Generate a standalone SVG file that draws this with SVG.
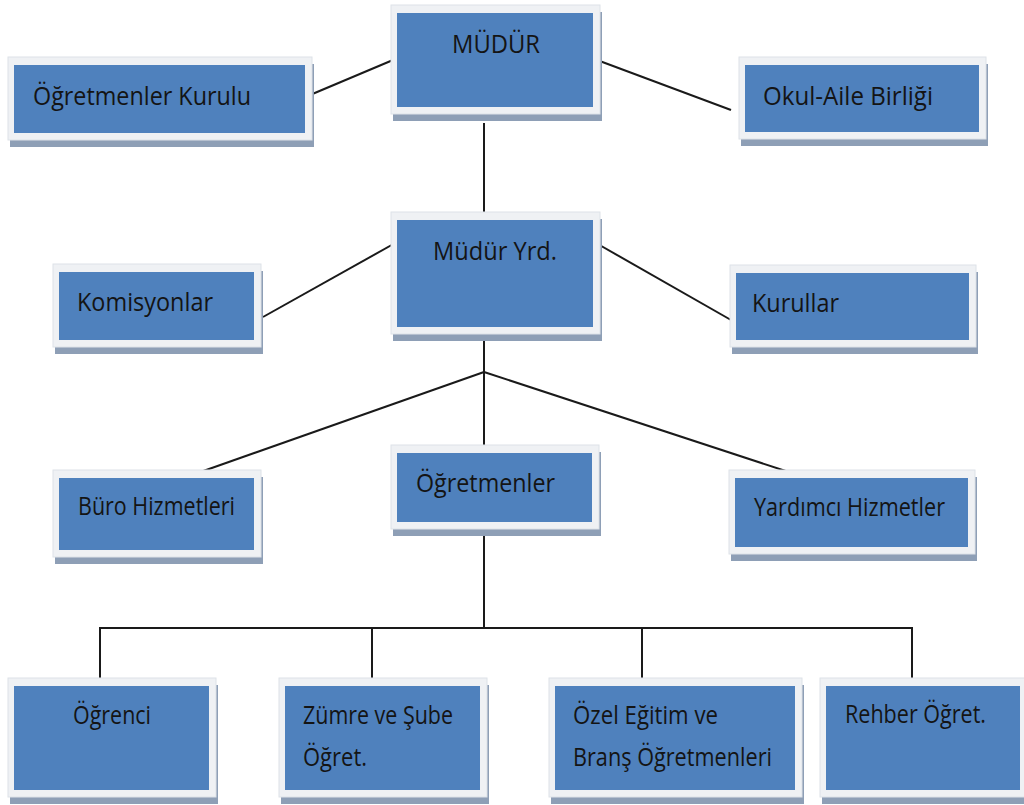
<svg xmlns="http://www.w3.org/2000/svg" width="1024" height="805" viewBox="0 0 1024 805">
<style>
.sh{fill:#8e9fb6}
.fr{fill:#eff1f4;stroke:#dde2e8;stroke-width:1}
.bx{fill:#4f81bd}
.t{font-family:"Open Sans","Noto Sans","DejaVu Sans",sans-serif;font-size:26px;fill:#141414}
.ln{stroke:#1a1a1a;stroke-width:2;fill:none}
</style>
<rect width="1024" height="805" fill="#ffffff"/>
<g id="connectors">
<line class="ln" x1="310" y1="95" x2="393" y2="60"/>
<line class="ln" x1="597" y1="60" x2="731" y2="110"/>
<line class="ln" x1="484" y1="123" x2="484" y2="214"/>
<line class="ln" x1="263" y1="317" x2="397" y2="242"/>
<line class="ln" x1="596" y1="243" x2="731" y2="320"/>
<line class="ln" x1="484" y1="340" x2="484" y2="372"/>
<line class="ln" x1="484" y1="372" x2="192" y2="475"/>
<line class="ln" x1="484" y1="372" x2="484" y2="448"/>
<line class="ln" x1="484" y1="372" x2="798" y2="475"/>
<line class="ln" x1="484" y1="536" x2="484" y2="628"/>
<polyline class="ln" points="100,680 100,628 912,628 912,680"/>
<line class="ln" x1="372" y1="628" x2="372" y2="680"/>
<line class="ln" x1="642" y1="628" x2="642" y2="680"/>
</g>
<g id="mudur">
<rect class="sh" x="393" y="12" width="209" height="109"/>
<rect class="fr" x="391" y="5" width="209" height="109"/>
<rect class="bx" x="397" y="13" width="196" height="94"/>
<text class="t" x="452" y="53" textLength="88" lengthAdjust="spacingAndGlyphs">MÜDÜR</text>
</g>
<g id="ogretmenler-kurulu">
<rect class="sh" x="10" y="64" width="304" height="83"/>
<rect class="fr" x="8" y="57" width="304" height="83"/>
<rect class="bx" x="14" y="65" width="291" height="68"/>
<text class="t" x="33" y="105" textLength="218" lengthAdjust="spacingAndGlyphs">Öğretmenler Kurulu</text>
</g>
<g id="okul-aile">
<rect class="sh" x="741" y="64" width="247" height="82"/>
<rect class="fr" x="739" y="57" width="247" height="82"/>
<rect class="bx" x="745" y="65" width="234" height="67"/>
<text class="t" x="763" y="105" textLength="170" lengthAdjust="spacingAndGlyphs">Okul-Aile Birliği</text>
</g>
<g id="mudur-yrd">
<rect class="sh" x="393" y="219" width="209" height="122"/>
<rect class="fr" x="391" y="212" width="209" height="122"/>
<rect class="bx" x="397" y="220" width="196" height="107"/>
<text class="t" x="433" y="260" textLength="124" lengthAdjust="spacingAndGlyphs">Müdür Yrd.</text>
</g>
<g id="komisyonlar">
<rect class="sh" x="55" y="271" width="208" height="83"/>
<rect class="fr" x="53" y="264" width="208" height="83"/>
<rect class="bx" x="59" y="272" width="195" height="68"/>
<text class="t" x="77" y="311" textLength="136" lengthAdjust="spacingAndGlyphs">Komisyonlar</text>
</g>
<g id="kurullar">
<rect class="sh" x="732" y="272" width="246" height="82"/>
<rect class="fr" x="730" y="265" width="246" height="82"/>
<rect class="bx" x="736" y="273" width="233" height="67"/>
<text class="t" x="752" y="312" textLength="87" lengthAdjust="spacingAndGlyphs">Kurullar</text>
</g>
<g id="buro-hizmetleri">
<rect class="sh" x="55" y="477" width="208" height="87"/>
<rect class="fr" x="53" y="470" width="208" height="87"/>
<rect class="bx" x="59" y="478" width="195" height="72"/>
<text class="t" x="78" y="515" textLength="157" lengthAdjust="spacingAndGlyphs">Büro Hizmetleri</text>
</g>
<g id="ogretmenler">
<rect class="sh" x="393" y="452" width="208" height="84"/>
<rect class="fr" x="391" y="445" width="208" height="84"/>
<rect class="bx" x="397" y="453" width="195" height="69"/>
<text class="t" x="416" y="492" textLength="139" lengthAdjust="spacingAndGlyphs">Öğretmenler</text>
</g>
<g id="yardimci-hizmetler">
<rect class="sh" x="731" y="477" width="246" height="84"/>
<rect class="fr" x="729" y="470" width="246" height="84"/>
<rect class="bx" x="735" y="478" width="233" height="69"/>
<text class="t" x="754" y="516" textLength="191" lengthAdjust="spacingAndGlyphs">Yardımcı Hizmetler</text>
</g>
<g id="ogrenci">
<rect class="sh" x="10" y="685" width="208" height="119"/>
<rect class="fr" x="8" y="678" width="208" height="119"/>
<rect class="bx" x="14" y="686" width="195" height="104"/>
<text class="t" x="73" y="724" textLength="78" lengthAdjust="spacingAndGlyphs">Öğrenci</text>
</g>
<g id="zumre">
<rect class="sh" x="281" y="685" width="208" height="119"/>
<rect class="fr" x="279" y="678" width="208" height="119"/>
<rect class="bx" x="285" y="686" width="195" height="104"/>
<text class="t" x="303" y="724" textLength="150" lengthAdjust="spacingAndGlyphs">Zümre ve Şube</text>
<text class="t" x="303" y="766" textLength="64" lengthAdjust="spacingAndGlyphs">Öğret.</text>
</g>
<g id="ozel-egitim">
<rect class="sh" x="551" y="685" width="253" height="119"/>
<rect class="fr" x="549" y="678" width="253" height="119"/>
<rect class="bx" x="555" y="686" width="240" height="104"/>
<text class="t" x="573" y="724" textLength="145" lengthAdjust="spacingAndGlyphs">Özel Eğitim ve</text>
<text class="t" x="573" y="766" textLength="199" lengthAdjust="spacingAndGlyphs">Branş Öğretmenleri</text>
</g>
<g id="rehber">
<rect class="sh" x="822" y="685" width="207" height="119"/>
<rect class="fr" x="820" y="678" width="207" height="119"/>
<rect class="bx" x="826" y="686" width="194" height="104"/>
<text class="t" x="845" y="723" textLength="141" lengthAdjust="spacingAndGlyphs">Rehber Öğret.</text>
</g>
</svg>
